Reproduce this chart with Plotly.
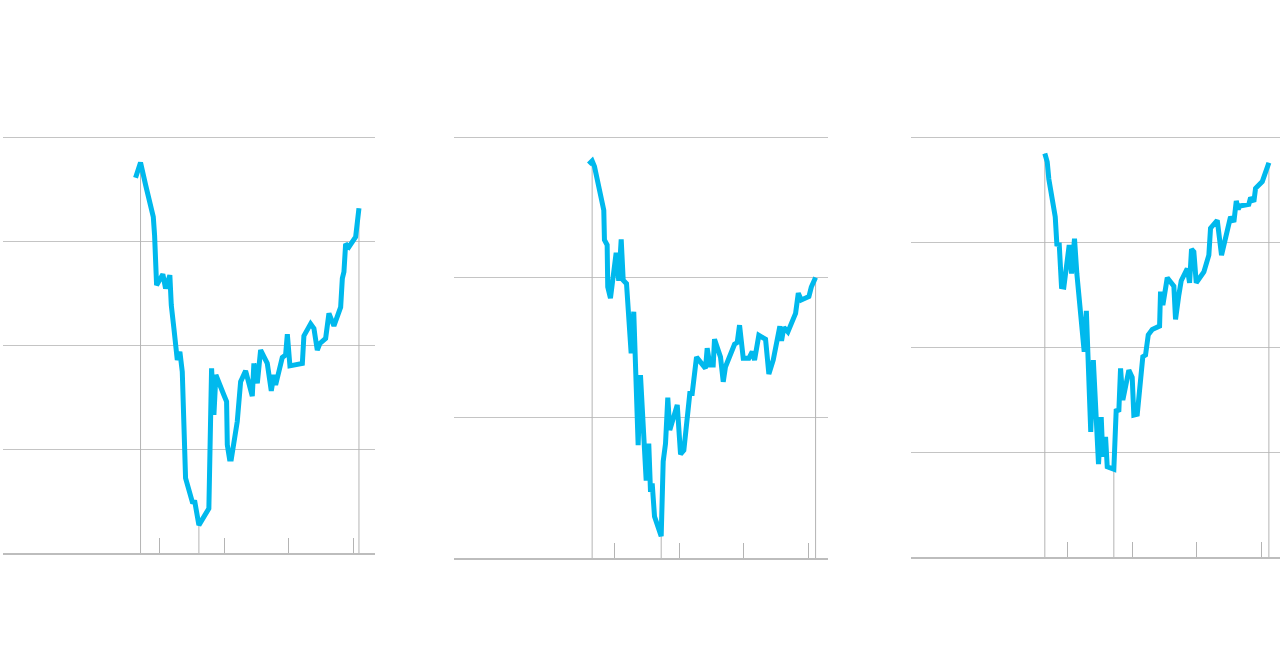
import plotly.graph_objects as go

# three panels, x in years (ticks at 1..4), y in index points
x_a = [0.629, 0.706, 0.784, 0.903, 0.923, 0.954, 1.051, 1.093, 1.159, 1.181,
       1.221, 1.274, 1.314, 1.351, 1.402, 1.506, 1.546, 1.608, 1.762, 1.804,
       1.840, 1.871, 1.994, 2.036, 2.047, 2.082, 2.109, 2.201, 2.253, 2.330,
       2.433, 2.458, 2.511, 2.562, 2.665, 2.727, 2.767, 2.794, 2.897, 2.948,
       2.975, 3.015, 3.207, 3.231, 3.335, 3.386, 3.438, 3.479, 3.567, 3.618,
       3.695, 3.799, 3.825, 3.850, 3.876, 3.927, 4.031, 4.082]
y_a = [90.2, 93.9, 88.5, 80.8, 76.4, 64.4, 67.0, 63.6, 66.8, 59.6,
       54.1, 46.4, 48.4, 43.6, 18.0, 12.3, 12.2, 6.7, 10.7, 44.4,
       33.2, 42.8, 38.0, 36.4, 26.0, 22.6, 22.6, 31.6, 41.2, 43.8,
       37.7, 45.6, 40.8, 48.8, 45.6, 39.0, 42.8, 40.4, 47.0, 47.6,
       52.6, 45.0, 45.6, 52.2, 55.1, 54.0, 48.8, 50.4, 51.6, 57.6,
       54.6, 59.1, 66.0, 67.6, 74.3, 73.6, 76.0, 82.9]

x_b = [0.603, 0.655, 0.691, 0.835, 0.845, 0.887, 0.896, 0.938, 1.026, 1.066,
       1.104, 1.135, 1.186, 1.258, 1.298, 1.366, 1.402, 1.490, 1.530, 1.557,
       1.583, 1.619, 1.722, 1.753, 1.789, 1.824, 1.855, 1.970, 2.021, 2.072,
       2.164, 2.201, 2.268, 2.407, 2.433, 2.474, 2.526, 2.546, 2.639, 2.681,
       2.716, 2.794, 2.856, 2.897, 2.933, 2.990, 3.077, 3.129, 3.165, 3.231,
       3.335, 3.386, 3.454, 3.556, 3.582, 3.618, 3.680, 3.799, 3.841, 3.887,
       4.005, 4.042, 4.108]
y_b = [70.2, 70.8, 69.8, 62.0, 56.7, 55.8, 48.3, 46.3, 54.4, 49.4,
       56.8, 49.5, 48.9, 36.5, 43.9, 20.1, 32.6, 13.8, 20.4, 11.8,
       13.3, 7.4, 3.9, 17.2, 20.4, 28.6, 22.8, 27.3, 18.5, 19.2,
       29.3, 29.3, 35.8, 33.8, 37.4, 34.4, 34.4, 39.0, 35.8, 31.4,
       34.1, 36.5, 38.1, 38.4, 41.5, 35.6, 35.6, 36.8, 35.3, 39.7,
       39.0, 32.8, 35.3, 41.3, 38.7, 41.1, 40.3, 43.6, 47.2, 46.0,
       46.6, 48.3, 50.0]

x_c = [0.649, 0.686, 0.711, 0.810, 0.835, 0.872, 0.907, 0.943, 1.026, 1.062,
       1.108, 1.144, 1.258, 1.291, 1.359, 1.399, 1.479, 1.521, 1.546, 1.588,
       1.614, 1.716, 1.753, 1.793, 1.820, 1.855, 1.948, 2.000, 2.025, 2.078,
       2.164, 2.206, 2.248, 2.310, 2.423, 2.438, 2.474, 2.542, 2.644, 2.670,
       2.721, 2.758, 2.851, 2.887, 2.917, 2.953, 2.990, 3.108, 3.185, 3.211,
       3.315, 3.381, 3.520, 3.572, 3.609, 3.640, 3.664, 3.803, 3.830, 3.881,
       3.907, 4.011, 4.113]
y_c = [96.1, 94.1, 90.0, 81.0, 74.5, 74.4, 64.4, 64.3, 74.3, 67.5,
       75.8, 67.5, 48.9, 58.6, 29.8, 46.9, 22.1, 33.3, 23.9, 28.6,
       21.5, 20.9, 35.2, 34.6, 44.9, 37.4, 44.5, 42.8, 33.8, 34.0,
       47.7, 48.1, 52.9, 54.2, 55.0, 63.2, 60.0, 66.5, 64.5, 56.6,
       62.4, 65.8, 68.7, 65.3, 73.3, 72.7, 65.3, 67.9, 71.9, 78.3,
       80.2, 71.9, 81.0, 79.8, 84.8, 82.8, 83.6, 84.0, 85.6, 84.6,
       87.8, 89.4, 93.9]

tick_vals = [1, 2, 3, 4]
x_ranges = [[-1.42, 4.33], [-1.48, 4.30], [-1.42, 4.285]]
y_ranges = [[0, 100.5], [0, 75.4], [0, 100.5]]
x_domains = [[3 / 1280, 375 / 1280], [454 / 1280, 828 / 1280], [911 / 1280, 1.0]]
y_domains = [[1 - 553 / 652, 1 - 135 / 652], [1 - 558 / 652, 1 - 135 / 652],
             [1 - 557 / 652, 1 - 135 / 652]]

LINE = '#00b9ed'
GREY = '#b4b4b4'

fig = go.Figure()
panels = [(x_a, y_a), (x_b, y_b), (x_c, y_c)]
for i, (xs, ys) in enumerate(panels):
    sfx = '' if i == 0 else str(i + 1)
    # drop lines at peak, trough and latest value
    i_max = ys.index(max(ys))
    i_min = ys.index(min(ys))
    for k in (i_max, i_min, len(ys) - 1):
        fig.add_trace(go.Scatter(x=[xs[k], xs[k]], y=[0, ys[k]], mode='lines',
                                 line=dict(color=GREY, width=1),
                                 hoverinfo='skip', xaxis='x' + sfx, yaxis='y' + sfx))
    fig.add_trace(go.Scatter(x=xs, y=ys, mode='lines',
                             line=dict(color=LINE, width=5),
                             xaxis='x' + sfx, yaxis='y' + sfx))
    fig.layout['xaxis' + sfx] = dict(domain=x_domains[i], range=x_ranges[i],
                                     tickvals=tick_vals, ticks='inside', ticklen=15,
                                     tickcolor=GREY, tickwidth=1, showticklabels=False,
                                     showgrid=False, zeroline=False,
                                     showline=True, linecolor='#bdbdbd', linewidth=2,
                                     anchor='y' + sfx, fixedrange=True)
    fig.layout['yaxis' + sfx] = dict(domain=y_domains[i], range=y_ranges[i], dtick=25,
                                     showticklabels=False, showgrid=True,
                                     gridcolor='#c4c4c4', gridwidth=1, zeroline=False,
                                     anchor='x' + sfx, fixedrange=True)

fig.update_layout(width=1280, height=652, showlegend=False,
                  margin={'l': 0, 'r': 0, 't': 0, 'b': 0},
                  paper_bgcolor='white', plot_bgcolor='white')
fig.write_html("out.html", config={'displayModeBar': False},
               post_script="document.body.style.margin='0px';")
